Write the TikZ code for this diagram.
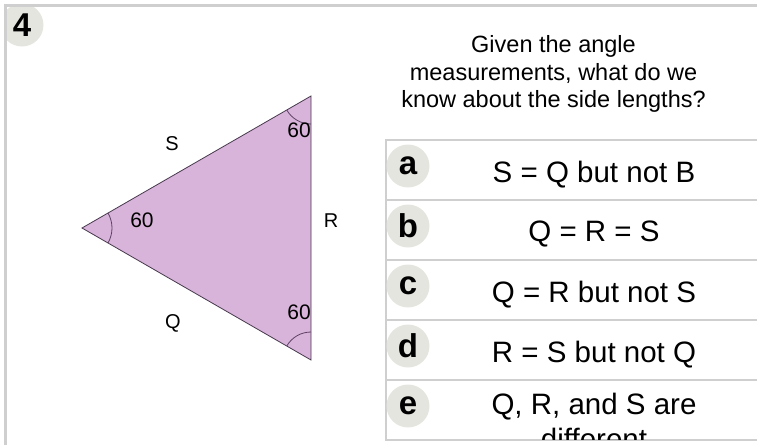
\documentclass[tikz,border=0pt]{standalone}
\usepackage{fontspec}
\setmainfont{Liberation Sans}
\usetikzlibrary{positioning,calc}

\definecolor{framegray}{RGB}{207,207,207}
\definecolor{badgegray}{RGB}{229,229,224}
\definecolor{trifill}{RGB}{216,180,218}
\definecolor{triline}{RGB}{72,56,78}
\definecolor{arcline}{RGB}{92,62,100}

\begin{document}
\begin{tikzpicture}[
            x=1pt, y=1pt,
            every node/.style={inner sep=0pt, outer sep=0pt},
            badge/.style={circle, fill=badgegray, minimum size=43pt, font=\fontsize{33}{33}\selectfont\bfseries},
            optbox/.style={draw=framegray, line width=2pt, minimum width=434pt, minimum height=60pt, anchor=north west},
            opttext/.style={anchor=base, font=\fontsize{29.5}{35}\selectfont},
            anglenum/.style={font=\fontsize{21}{21}\selectfont},
            sidename/.style={font=\fontsize{20}{20}\selectfont}
        ]
\useasboundingbox (0,0) rectangle (757,-445);

% question number
            \begin{scope}
            \clip (5.5,-5.5) rectangle (757,-445);
            \node[badge] (num) at (22,-25) {4};
            \end{scope}
            \draw[framegray, line width=3pt] (5.5,-445) -- (5.5,-5.5) -- (757,-5.5);

% vertices
            \coordinate (L) at (82,-228);
            \coordinate (T) at (311,-96);
            \coordinate (B) at (311,-360);

% triangle
            \filldraw[fill=trifill, draw=triline, line width=0.8pt] (L) -- (T) -- (B) -- cycle;

% angle marks
            \draw[arcline, line width=0.8pt] ([shift={(-30:30pt)}]L) arc[start angle=-30, end angle=30, radius=30pt];
            \draw[arcline, line width=0.8pt] ([shift={(210:28pt)}]T) arc[start angle=210, end angle=270, radius=28pt];
            \draw[arcline, line width=0.8pt] ([shift={(90:28pt)}]B) arc[start angle=90, end angle=150, radius=28pt];

% angle labels
            \node[anglenum] (angL) at (142,-220) {60};
            \node[anglenum] (angT) at (299,-130) {60};
            \node[anglenum] (angB) at (299,-312) {60};

% side labels
            \node[sidename] (sideS) at (172,-144) {S};
            \node[sidename] (sideR) at (331,-221) {R};
            \node[sidename] (sideQ) at (173,-323) {Q};

% question
            \node[anchor=north, align=center, font=\fontsize{23.5}{27.5}\selectfont] (question) at (553.5,-35.8)
                {Given the angle\\measurements, what do we\\know about the side lengths?};

% answer boxes
            \node[optbox] (boxa) at (386,-140) {};
            \node[optbox] (boxb) at (386,-200) {};
            \node[optbox] (boxc) at (386,-260) {};
            \node[optbox] (boxd) at (386,-320) {};
            \node[optbox] (boxe) at (386,-380) {};

% answer letters
            \node[badge] (la) at (408,-166) {a};
            \node[badge] (lb) at (408,-226) {b};
            \node[badge] (lc) at (408,-286) {c};
            \node[badge] (ld) at (408,-346) {d};
            \node[badge] (le) at (408,-406) {e};

% answer texts
            \node[opttext] (ta) at (594,-182) {S = Q but not B};
            \node[opttext] (tb) at (594,-241) {Q = R = S};
            \node[opttext] (tc) at (594,-302) {Q = R but not S};
            \node[opttext] (td) at (594,-362) {R = S but not Q};
            \begin{scope}
            \clip (388,-381) rectangle (757,-439);
            \node[opttext, anchor=north, align=center] (te) at (594,-393.5) {Q, R, and S are\\different};
            \end{scope}

        \end{tikzpicture}
\end{document}
